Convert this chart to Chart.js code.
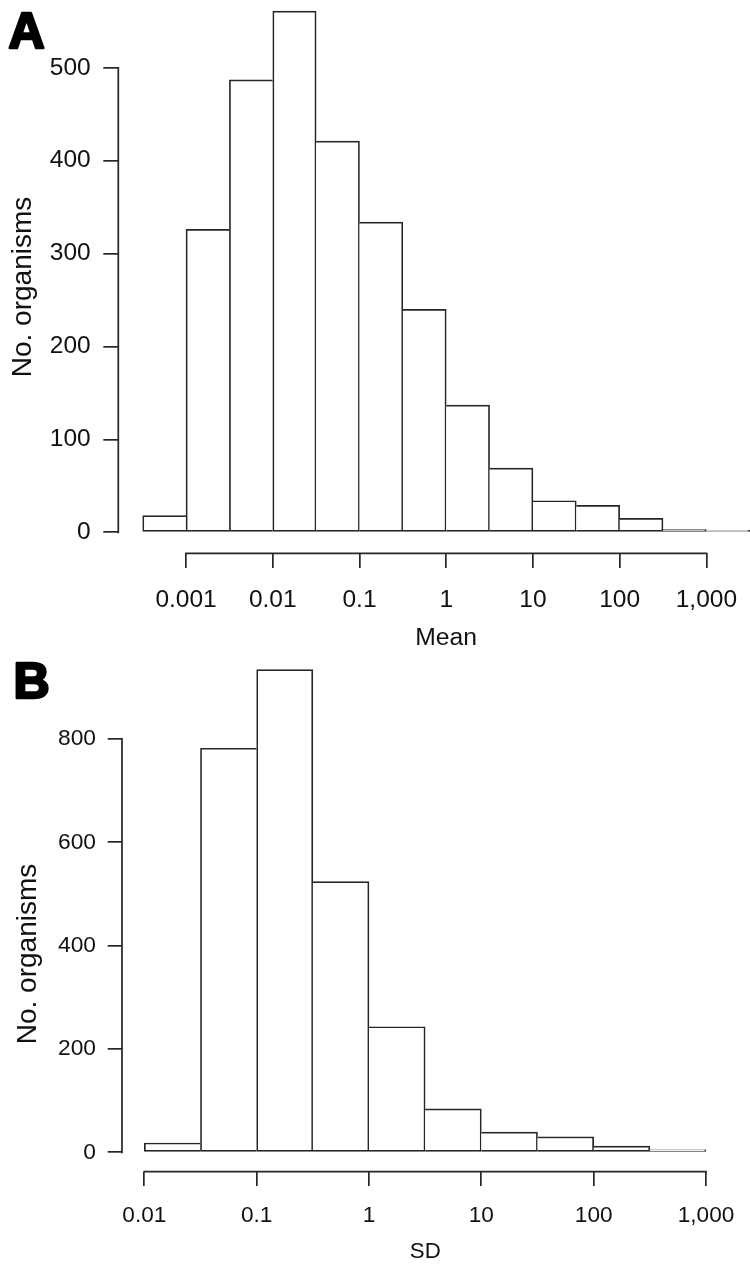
<!DOCTYPE html>
<html><head><meta charset="utf-8">
<script src="https://cdn.jsdelivr.net/npm/chart.js@4.4.1/dist/chart.umd.min.js"></script>
<style>
html,body{margin:0;padding:0;background:#fff;overflow:hidden;width:750px;height:1271px}
#wa{position:absolute;left:0;top:0;width:774px;height:660px}
#wb{position:absolute;left:0;top:660px;width:750px;height:611px}
</style></head><body>
<div id="wa"><canvas id="ca"></canvas></div>
<div id="wb"><canvas id="cb"></canvas></div>
<script>
// ---- Panel A: Mean (half-decade bins, log10 midpoints) ----
const meanBinMidLog10 = [-3.25, -2.75, -2.25, -1.75, -1.25, -0.75, -0.25, 0.25, 0.75, 1.25, 1.75, 2.25, 2.75, 3.25];
const meanCounts      = [18, 326, 487, 561, 421, 334, 240, 137, 69, 34, 29, 15, 3, 2];
const meanTickLog10   = [-3, -2, -1, 0, 1, 2, 3];
const meanTickLabels  = ['0.001', '0.01', '0.1', '1', '10', '100', '1,000'];
const meanYTicks      = [0, 100, 200, 300, 400, 500];

// ---- Panel B: SD ----
const sdBinMidLog10 = [-1.75, -1.25, -0.75, -0.25, 0.25, 0.75, 1.25, 1.75, 2.25, 2.75];
const sdCounts      = [18, 782, 934, 524, 243, 84, 39, 30, 12, 5];
const sdTickLog10   = [-2, -1, 0, 1, 2, 3];
const sdTickLabels  = ['0.01', '0.1', '1', '10', '100', '1,000'];
const sdYTicks      = [0, 200, 400, 600, 800];

const FONT = '"Liberation Sans", Arial, Helvetica, sans-serif';
const INK = '#262626';
const TXT = '#111111';
const LW = 1.7;

const rStyle = {
  id: 'rStyle',
  afterDraw(chart, args, opts) {
    const ctx = chart.ctx, x = chart.scales.x, y = chart.scales.y, a = chart.chartArea;
    ctx.save();
    ctx.strokeStyle = INK; ctx.lineWidth = LW; ctx.lineCap = 'square';
    ctx.beginPath();
    ctx.moveTo(x.getPixelForValue(opts.xFirst), a.bottom);
    ctx.lineTo(x.getPixelForValue(opts.xLast), a.bottom);
    ctx.moveTo(a.left, y.getPixelForValue(opts.yFirst));
    ctx.lineTo(a.left, y.getPixelForValue(opts.yLast));
    ctx.stroke();
    ctx.font = 'bold 50px ' + FONT;
    ctx.fillStyle = '#000'; ctx.strokeStyle = '#000';
    ctx.lineWidth = 2.6; ctx.lineJoin = 'round';
    ctx.textAlign = 'left'; ctx.textBaseline = 'alphabetic';
    ctx.fillText(opts.letter, opts.lx, opts.ly);
    ctx.strokeText(opts.letter, opts.lx, opts.ly);
    ctx.restore();
  }
};

function edgeWidths(ctx) {
  const d = ctx.dataset.data, i = ctx.dataIndex, v = d[i].y;
  const prev = i > 0 ? d[i - 1].y : -1;
  const next = i < d.length - 1 ? d[i + 1].y : -1;
  return { top: LW, bottom: LW, left: v >= prev ? LW : 0, right: v > next ? LW : 0 };
}

function makeChart(el, cfg) {
  return new Chart(el, {
    type: 'bar',
    data: { datasets: [{
      data: cfg.mids.map((m, i) => ({ x: m, y: cfg.counts[i] })),
      backgroundColor: '#ffffff', borderColor: INK, borderWidth: edgeWidths,
      borderSkipped: false, clip: false, barPercentage: 1, categoryPercentage: 1
    }] },
    options: {
      responsive: true, maintainAspectRatio: false, animation: false,
      layout: { padding: cfg.pad },
      plugins: {
        legend: { display: false }, tooltip: { enabled: false },
        rStyle: { letter: cfg.letter, lx: cfg.lx, ly: cfg.ly,
          xFirst: cfg.xt[0], xLast: cfg.xt[cfg.xt.length - 1],
          yFirst: cfg.yt[0], yLast: cfg.yt[cfg.yt.length - 1] }
      },
      scales: {
        x: {
          type: 'linear', min: cfg.xmin, max: cfg.xmax, offset: false,
          afterBuildTicks: s => { s.ticks = cfg.xt.map(v => ({ value: v })); },
          afterFit: s => { s.height = cfg.xh; s.paddingLeft = 0; s.paddingRight = 0; },
          grid: { display: true, offset: false, drawOnChartArea: false, drawTicks: true, tickLength: cfg.xtl, color: INK, lineWidth: LW },
          border: { display: false },
          ticks: { autoSkip: false, maxRotation: 0, minRotation: 0, padding: cfg.xpad, color: TXT,
            font: { family: FONT, size: cfg.tickSize }, callback: (v, i) => cfg.xl[i] },
          title: { display: true, text: cfg.xTitle, color: TXT, font: { family: FONT, size: cfg.xTitleSize },
            padding: { top: 0, bottom: cfg.xTitlePad } }
        },
        y: {
          type: 'linear', min: cfg.ymin, max: cfg.ymax,
          afterBuildTicks: s => { s.ticks = cfg.yt.map(v => ({ value: v })); },
          afterFit: s => { s.width = cfg.yw; s.paddingTop = 0; s.paddingBottom = 0; },
          grid: { display: true, offset: false, drawOnChartArea: false, drawTicks: true, tickLength: cfg.ytl, color: INK, lineWidth: LW },
          border: { display: false },
          ticks: { autoSkip: false, padding: cfg.ypad, color: TXT,
            font: { family: FONT, size: cfg.yTickSize }, callback: v => String(v) },
          title: { display: true, text: 'No. organisms', color: TXT, font: { family: FONT, size: 28 },
            padding: { top: cfg.yTitlePad, bottom: 0 } }
        }
      }
    },
    plugins: [rStyle]
  });
}

makeChart(document.getElementById('ca'), {
  mids: meanBinMidLog10, counts: meanCounts, xt: meanTickLog10, xl: meanTickLabels, yt: meanYTicks,
  letter: 'A', lx: 8.5, ly: 48,
  pad: { left: 0, right: 0, top: 20.7, bottom: 0 },
  xmin: -3.7812, xmax: 3.78, xh: 106.7, xtl: 14.7, xpad: 17.4, tickSize: 24.5,
  xTitle: 'Mean', xTitleSize: 24.7, xTitlePad: 6.7,
  ymin: -22.6, ymax: 550.7, yw: 118.3, ytl: 15, ypad: 12.6, yTickSize: 24.5, yTitlePad: 6.2
});

makeChart(document.getElementById('cb'), {
  mids: sdBinMidLog10, counts: sdCounts, xt: sdTickLog10, xl: sdTickLabels, yt: sdYTicks,
  letter: 'B', lx: 13.5, ly: 37.5,
  pad: { left: 0, right: 21.5, top: 76.4, bottom: 0 },
  xmin: -2.1985, xmax: 3.2003, xh: 99.4, xtl: 14.3, xpad: 16.3, tickSize: 22.6,
  xTitle: 'SD', xTitleSize: 22.3, xTitlePad: 5.8,
  ymin: -37.35, ymax: 804.9, yw: 122, ytl: 14.3, ypad: 11.7, yTickSize: 22.8, yTitlePad: 11.2
});
</script>
</body></html>
